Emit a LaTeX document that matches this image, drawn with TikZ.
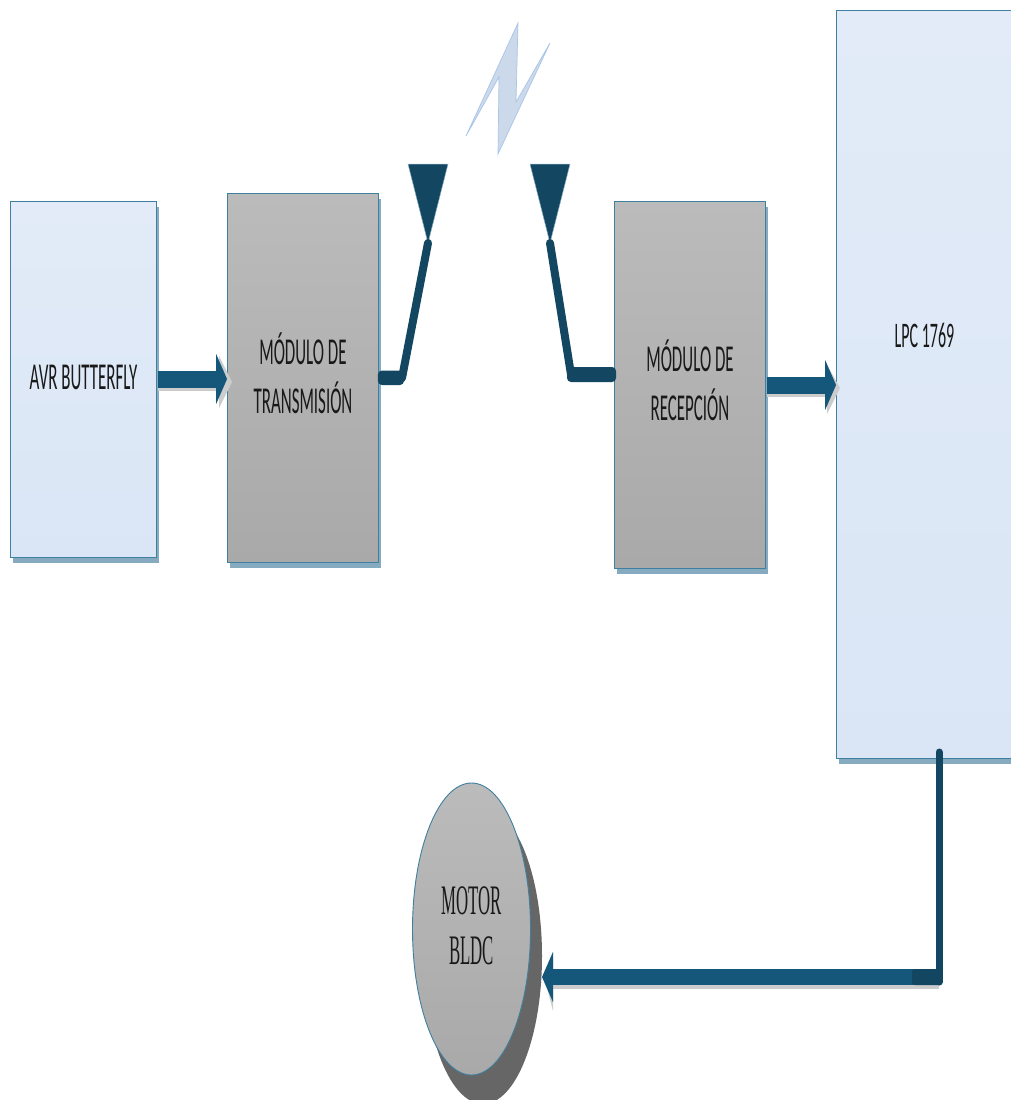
\documentclass[tikz,border=0pt]{standalone}
\usepackage{fontspec}
\setmainfont{Carlito}
\newfontfamily\motorfont{Liberation Serif}
\usetikzlibrary{arrows.meta,shadows,calc,shapes.geometric}
\definecolor{barblue}{HTML}{15577A}
\definecolor{darkblue}{HTML}{124661}
\definecolor{edgeblue}{HTML}{3F7F9F}
\definecolor{shadowblue}{HTML}{86AAC0}
\newcommand{\lbl}[1]{\scalebox{0.445}[1]{#1}}
\newcommand{\mlbl}[1]{\scalebox{0.40}[1]{#1}}
\tikzset{
  blockbase/.style={rectangle,draw=edgeblue,line width=0.9pt,anchor=center,inner sep=0pt,align=center,text=black!90,
    font=\fontsize{38}{49}\selectfont,
    general shadow={fill=shadowblue,shadow xshift=2pt,shadow yshift=-6pt}},
  lightbox/.style={blockbase,top color=E3top,bottom color=E3bot},
  graybox/.style={blockbase,top color=Gtop,bottom color=Gbot},
  txtlabel/.style={inner sep=0pt,text=black!90,font=\fontsize{36}{49}\selectfont},
  bararrow/.style={draw=barblue,line width=17pt,-{Triangle[width=50pt,length=11pt]}},
  barshadow/.style={draw=black!20,line width=17pt},
  antennaline/.style={draw=darkblue,line width=8pt,line cap=round,line join=round},
  stubblock/.style={fill=darkblue,rounded corners=4pt},
  antennahead/.style={fill=darkblue,draw=edgeblue!60,line width=0.5pt},
  boltshape/.style={fill=boltfill,draw=boltedge,line width=0.7pt,line join=miter},
}
\definecolor{E3top}{HTML}{E2EBF7}
\definecolor{E3bot}{HTML}{DAE6F6}
\definecolor{Gtop}{HTML}{BBBBBB}
\definecolor{Gbot}{HTML}{A9A9A9}
\definecolor{boltfill}{HTML}{CBD9EB}
\definecolor{boltedge}{HTML}{AAC5E8}
\begin{document}
\begin{tikzpicture}[x=1pt,y=-1pt]
\useasboundingbox (0,0) rectangle (1011,1100);
\clip (0,0) rectangle (1011,1100);
\fill[white] (0,0) rectangle (1011,1100);
% blocks
\node[lightbox,minimum width=146pt,minimum height=356pt,text height=26pt,text depth=6pt] (avr) at (83.5,379) {\lbl{AVR BUTTERFLY}};
\node[graybox,minimum width=151pt,minimum height=369pt,text depth=8pt] (tx) at (303,377.5) {\lbl{MÓDULO DE}\\\lbl{TRANSMISIÓN}};
\node[graybox,minimum width=151pt,minimum height=367pt,text depth=8pt] (rx) at (690,384.5) {\lbl{MÓDULO DE}\\\lbl{RECEPCIÓN}};
\node[lightbox,minimum width=220pt,minimum height=748pt] (lpc) at (946.5,384) {};
\node[txtlabel] (lpctext) at (924.5,335) {\lbl{LPC 1769}};
% motor
\fill[fill=black!60] (483,956) ellipse [x radius=59,y radius=148];
\node[ellipse,draw=edgeblue,line width=0.9pt,top color=Gtop,bottom color=Gbot,minimum width=118pt,minimum height=292pt,inner sep=0pt,align=center,text=black!90,text depth=6pt,font=\motorfont\fontsize{42}{50}\selectfont] (motor) at (471.5,929) {\mlbl{MOTOR}\\\mlbl{BLDC}};
% antenna and bolt
\coordinate (lefttip) at (428,243);
\coordinate (leftknee) at (402,378);
\coordinate (leftstub) at ($(tx.east)+(-1,-7)$);
\coordinate (righttip) at (550,243);
\coordinate (rightknee) at (571,374.5);
\coordinate (rightstub) at ($(rx.west)+(2,-2.5)$);
\fill[antennahead] (408,164) -- (448,164) -- (lefttip) -- cycle;
\fill[antennahead] (530,164) -- (570,164) -- (righttip) -- cycle;
\draw[antennaline] (lefttip) -- (leftknee);
\draw[antennaline] (righttip) -- (rightknee);
\fill[stubblock] (leftstub) rectangle ($(leftknee)+(2,7)$);
\fill[stubblock] ($(rightknee)+(-4,-7.5)$) rectangle (rightstub);
\filldraw[boltshape] (518,23) -- (516,102) -- (550,43) -- (498,154) -- (499,77) -- (466,136) -- cycle;
% arrows
\coordinate (a1s) at ($(avr.east)+(1,0)$);
\coordinate (a1e) at (tx.west |- a1s);
\draw[barshadow] ($(a1s)+(0,3)$) -- ($(a1e)+(-10,3)$);
\fill[black!20] (219,356) -- (232,382) -- (219,408) -- cycle;
\draw[bararrow] (a1s) -- (a1e);
\coordinate (a2s) at ($(rx.east)+(1,0.5)$);
\coordinate (a2e) at (lpc.west |- a2s);
\draw[barshadow] ($(a2s)+(0,3)$) -- ($(a2e)+(-10,3)$);
\fill[black!20] (827,365) -- (840,388) -- (827,414) -- cycle;
\draw[bararrow] (a2s) -- (a2e);
% motor connector
\coordinate (corner) at (939,977);
\coordinate (lpcout) at (939,752);
\coordinate (motortip) at (542,980);
\coordinate (motorbar) at (motortip |- corner);
\draw[barshadow,line width=16pt] (553,981) -- (939,981);
\fill[black!20] (553,957) -- (545,980) -- (553,1011) -- cycle;
\draw[bararrow,line width=16pt] (corner) -- (motorbar);
\fill[darkblue,rounded corners=3pt] (912,969) rectangle (942,985);
\draw[antennaline,line width=7pt] (lpcout) -- ($(corner)+(0,5)$);
\end{tikzpicture}
\end{document}
